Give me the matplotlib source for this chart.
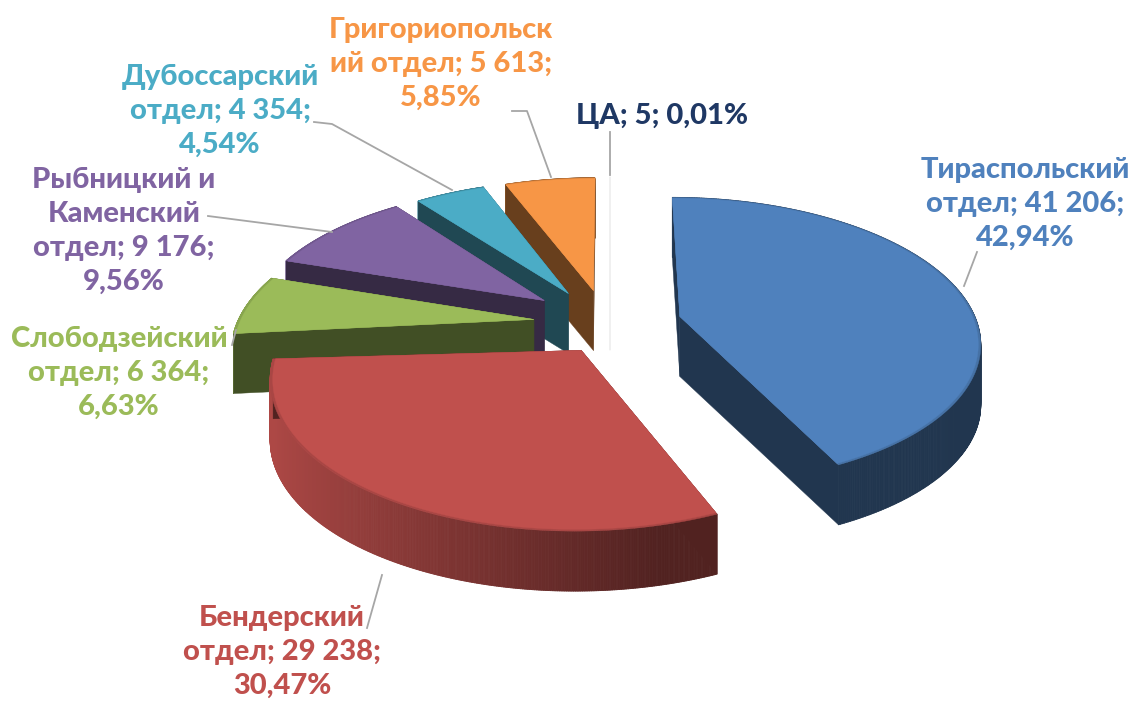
import numpy as np
import matplotlib
matplotlib.use("Agg")
import matplotlib.pyplot as plt
from matplotlib.collections import PolyCollection
from matplotlib.colors import to_rgb

names = ["Тираспольский\nотдел", "Бендерский\nотдел", "Слободзейский\nотдел",
         "Рыбницкий и\nКаменский\nотдел", "Дубоссарский\nотдел",
         "Григориопольск\nий отдел", "ЦА"]
values = [41206, 29238, 6364, 9176, 4354, 5613, 5]
percents = ["42,94%", "30,47%", "6,63%", "9,56%", "4,54%", "5,85%", "0,01%"]

colors = ["#4f81bd", "#c0504d", "#9bbb59", "#8064a2", "#4bacc6", "#f79646", "#f0f0f0"]
label_colors = colors[:6] + ["#1f3864"]
explode = [0.18, 0.19, 0.30, 0.27, 0.24, 0.22, 0.22]
# extra screen shift and spin per slice, the original is not a clean projection
nudge = [(3, -3), (-13, 2), (-3, -1), (-17, -3), (-23, -3), (-20, -5), (-15, -5)]
spin = [0, 2.5, 0, 0, 0, 0, 0]
draw_order = [6, 5, 4, 3, 2, 0, 1]

cx, cy, R, tilt, persp, depth = 625, 325, 297, 0.475, 0.17, 60


def project(x, z, h=0.0):
    s = 1 / (1 + persp * z)
    return np.column_stack([cx + R * s * x, cy - R * tilt * s * z + h * depth])


def shade(color, k):
    return tuple(np.clip(np.array(to_rgb(color)) * k, 0, 1))


plt.rcParams["font.family"] = ["Lato", "Open Sans"]
fig = plt.figure(figsize=(11.34, 7.07), dpi=100)
ax = fig.add_axes([0, 0, 1, 1])
ax.set_xlim(0, 1134)
ax.set_ylim(707, 0)
ax.axis("off")

fracs = np.array(values) / sum(values)
ends = np.cumsum(fracs) * 2 * np.pi
starts = ends - fracs * 2 * np.pi

for i in draw_order:
    a0, a1 = starts[i] + np.radians(spin[i]), ends[i] + np.radians(spin[i])
    mid = (a0 + a1) / 2
    ox, oz = explode[i] * np.sin(mid), explode[i] * np.cos(mid)
    th = np.linspace(a0, a1, 400)
    shift = np.array(nudge[i])
    tiny = fracs[i] < 0.001
    lw = 1.2 if tiny else 0.3
    rim = project(ox + np.sin(th), oz + np.cos(th)) + shift
    rim_b = project(ox + np.sin(th), oz + np.cos(th), 1) + shift
    apex = project(np.array([ox]), np.array([oz])) + shift
    apex_b = project(np.array([ox]), np.array([oz]), 1) + shift

    quads = [np.vstack([rim[j], rim[j + 1], rim_b[j + 1], rim_b[j]]) for j in range(len(th) - 1)]
    k = 0.42 + 0.48 * np.clip(-np.sin(th[:-1]) * 0.85 + 0.2, 0, 1)
    if tiny:
        k = k * 0 + 1
    ax.add_collection(PolyCollection(quads, facecolors=[shade(colors[i], v) for v in k],
                                     edgecolors="face", linewidths=0.6, zorder=2))
    side_k = 1 if tiny else 0.42
    for e in (0, -1):
        face = np.vstack([apex, rim[e], rim_b[e], apex_b])
        ax.fill(face[:, 0], face[:, 1], color=shade(colors[i], side_k), lw=lw, zorder=2)
    # top, with a thin soft edge along the rim
    for f, b in zip([1.0, 0.992], [0.88, 1.0]):
        top = np.vstack([apex, project(ox + f * np.sin(th), oz + f * np.cos(th)) + shift])
        ax.fill(top[:, 0], top[:, 1], color=shade(colors[i], 1 if tiny else b), lw=lw, zorder=2)

# labels: text centre and leader polyline
label_xy = [(1025, 204), (282, 652), (119, 373), (124, 231), (220, 111), (441, 64), (662, 116)]
leaders = [[(964, 286), (977, 252)], [(382, 575), (367, 628)], [(236, 330), (232, 345)],
           [(332, 232), (208, 216)], [(452, 190), (332, 124), (314, 122)],
           [(551, 177), (527, 111), (512, 111)], [(610, 175), (610, 132)]]
for i in range(len(values)):
    pts = np.array(leaders[i])
    ax.plot(pts[:, 0], pts[:, 1], color="#a6a6a6", lw=1.3, zorder=3)
    val = f"{values[i]:,}".replace(",", " ")
    if names[i] == "ЦА":
        text = f"ЦА; {val}; {percents[i]}"
    else:
        text = f"{names[i]}; {val};\n{percents[i]}"
    ax.text(label_xy[i][0], label_xy[i][1], text, color=label_colors[i], fontsize=21, fontweight="black",
            ha="center", va="center", linespacing=1.37, zorder=4)

fig.savefig("out.png", dpi=100)
